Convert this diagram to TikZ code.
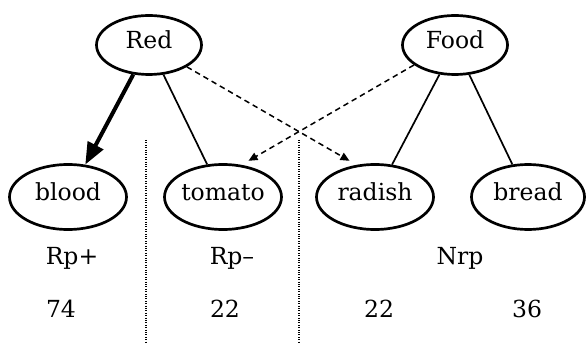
\documentclass[tikz,border=0pt]{standalone}
\usepackage{fontspec}
\setmainfont{DejaVu Serif}
\usetikzlibrary{shapes.geometric,arrows.meta}
\begin{document}
\begin{tikzpicture}[x=1pt,y=1pt,
  every node/.style={font=\fontsize{23.5}{28}\selectfont},
  caption/.style={inner sep=0pt,text height=0.75em,text depth=0pt},
  concept/.style={ellipse,draw,line width=2.7pt,inner sep=0pt,
    minimum width=105pt,minimum height=59pt,
    label={[caption]center:#1}},
  word/.style={concept=#1,minimum width=117pt,minimum height=65pt},
  tag/.style={anchor=base,inner sep=0pt},
  link/.style={line width=1.7pt},
  strong/.style={line width=4pt,-{Triangle[length=22pt,width=17pt]}},
  hint/.style={line width=1.5pt,dash pattern=on 5.5pt off 4pt,
    -{Triangle[length=9pt,width=8pt]},shorten >=8pt},
  divider/.style={line width=1.6pt,dash pattern=on 1pt off 1.4pt}]
\useasboundingbox (0,0) rectangle (588,343);

% column separators
\draw[divider] (146,203) -- (146,0);
\draw[divider] (299,203) -- (299,0);

% category nodes
\node[concept=Red]  (Red)  at (149,298) {};
\node[concept=Food] (Food) at (455,298) {};

% word nodes
\node[word=blood]  (blood)  at (68,146)  {};
\node[word=tomato] (tomato) at (223,146) {};
\node[word=radish] (radish) at (375,146) {};
\node[word=bread,minimum width=113pt] (bread) at (528,146) {};

% links
\draw[strong] (Red) -- (blood);
\draw[link] (Red) -- (tomato);
\draw[link] (Food) -- (radish);
\draw[link] (Food) -- (bread);
\draw[hint] (Red.-30) -- (radish.120);
\draw[hint] (Food.206) -- (tomato.60);

% group labels
\node[tag] (rpp) at (72,79)  {Rp+};
\node[tag] (rpm) at (232,79) {Rp--};
\node[tag] (nrp) at (460,79) {Nrp};

% counts
\node[tag] (n1) at (61,26)  {74};
\node[tag] (n2) at (225,26) {22};
\node[tag] (n3) at (379,26) {22};
\node[tag] (n4) at (527,26) {36};
\end{tikzpicture}
\end{document}
